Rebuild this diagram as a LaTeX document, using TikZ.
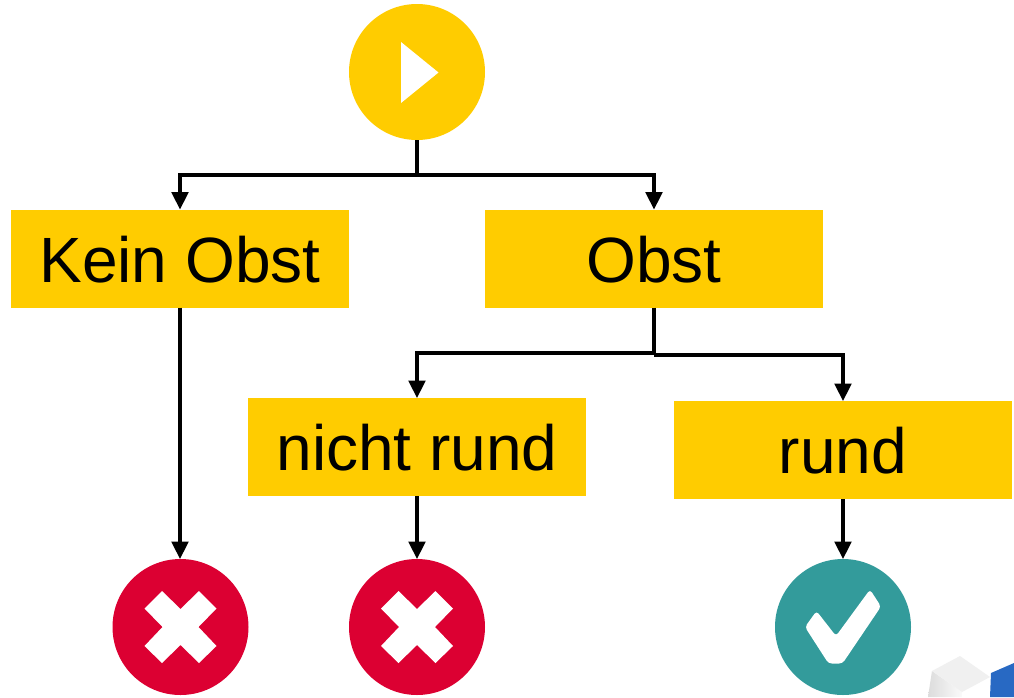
\documentclass[tikz,border=0pt]{standalone}
\usepackage{fontspec}
\setmainfont{Liberation Sans}
\usetikzlibrary{arrows.meta}
\definecolor{gelb}{HTML}{FFCC00}
\definecolor{rot}{HTML}{DC0032}
\definecolor{teal2}{HTML}{339B9B}
\tikzset{
  x=0.75pt,y=-0.75pt,
  boxn/.style={fill=gelb,minimum width=253.5pt,minimum height=73.5pt,inner sep=0pt,outer sep=0pt,text height=35.6pt,text depth=0pt,font=\fontsize{48}{50}\selectfont,text=black},
  circn/.style={circle,minimum size=102pt,inner sep=0pt,outer sep=0pt},
  arr/.style={draw=black,line width=2.3pt,-{Triangle[length=13pt,width=12.5pt]}},
  lin/.style={draw=black,line width=2.3pt},
  glyph/.style={fill=white,draw=none}
}
\begin{document}
\begin{tikzpicture}
\useasboundingbox (0,0) rectangle (1014,697);
\fill[white] (0,0) rectangle (1014,697);
% decorative cubes
\fill[color={rgb,255:red,40;green,105;blue,195}] (991,673) -- (1014,663) -- (1014,697) -- (990,697) -- cycle;
\shade[left color={rgb,255:red,220;green,220;blue,220},right color={rgb,255:red,250;green,250;blue,250}] (932,671) -- (962,692) -- (962,697) -- (928,697) -- cycle;
\fill[color={rgb,255:red,240;green,240;blue,240}] (960,656) -- (932,671) -- (962,692) -- (990,677) -- cycle;
% nodes
\node[circn,fill=gelb] (start) at (417,72) {};
\node[boxn] (kein) at (180,258.5) {Kein Obst};
\node[boxn] (obst) at (654,258.5) {Obst};
\node[boxn] (nicht) at (417,447) {nicht rund};
\node[boxn] (rund) at (843,450) {rund};
\node[circn,fill=rot] (x1) at (180.5,627) {};
\node[circn,fill=rot] (x2) at (417,627) {};
\node[circn,fill=teal2] (ok) at (843,627) {};
% glyphs
\fill[glyph] (401,42) -- (438.5,72.5) -- (401,103) -- cycle;
\foreach \c in {x1,x2}{
  \begin{scope}[shift={(\c)}]
  \fill[glyph] (0,-18) -- (18.5,-36) -- (36,-18.5) -- (18,0) -- (36,19) -- (18.5,36) -- (0,18) -- (-18.5,36) -- (-36,19) -- (-18,0) -- (-36,-18.5) -- (-18.5,-36) -- cycle;
  \end{scope}
}
\fill[glyph,rounded corners=2.5pt] (816.5,611) -- (836,636) -- (870,589.5) -- (881,606.5) -- (842.5,663.5) -- (828.5,663.5) -- (805,627) -- cycle;
% connectors
\coordinate (b1) at (417,175);
\coordinate (b2) at (654,353);
\coordinate (b3) at (654,355);
\draw[lin] (start.south) -- (b1);
\draw[arr] (b1) -| (kein.north);
\draw[arr] (b1) -| (obst.north);
\draw[lin] (obst.south) -- (b3);
\draw[arr] (b2) -| (nicht.north);
\draw[arr] (b3) -| (rund.north);
\draw[arr] (kein.south) -- (kein.south |- x1.north);
\draw[arr] (nicht.south) -- (x2.north);
\draw[arr] (rund.south) -- (ok.north);
\end{tikzpicture}
\end{document}
